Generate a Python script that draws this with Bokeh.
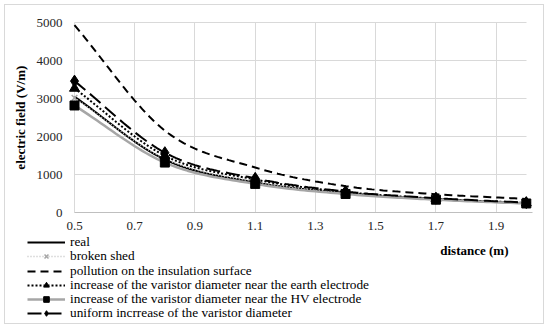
import numpy as np
from math import pi
from bokeh.plotting import figure
from bokeh.models import (Range1d, FixedTicker, Legend, LegendItem, Label,
                          ColumnDataSource, NumeralTickFormatter)
from bokeh.embed import file_html
from bokeh.resources import INLINE

# ---- data ----
distance = [0.5, 0.8, 1.1, 1.4, 1.7, 2.0]
real = [3050, 1400, 800, 520, 360, 250]
broken_shed = [3020, 1420, 810, 525, 362, 252]
pollution = [4930, 2160, 1190, 700, 490, 365]
earth_electrode = [3270, 1500, 875, 545, 372, 258]
hv_electrode = [2820, 1320, 760, 495, 345, 245]
uniform = [3460, 1580, 905, 560, 385, 268]

x_ticks = [0.5, 0.7, 0.9, 1.1, 1.3, 1.5, 1.7, 1.9]
y_ticks = [0, 1000, 2000, 3000, 4000, 5000]

labels = ["real", "broken shed", "pollution on the insulation surface",
          "increase of the varistor diameter near the earth electrode",
          "increase of the varistor diameter near the HV electrode",
          "uniform incrrease of the varistor diameter"]

FONT = "Liberation Serif"


def smooth(xs, ys, n=24):
    """Catmull-Rom spline through the data points (Excel-like smoothing)."""
    xs = np.asarray(xs, float)
    ys = np.asarray(ys, float)
    P = np.column_stack([xs, ys])
    P = np.vstack([2 * P[0] - P[1], P, 2 * P[-1] - P[-2]])
    out = []
    for i in range(1, len(P) - 2):
        p0, p1, p2, p3 = P[i - 1], P[i], P[i + 1], P[i + 2]
        t = np.linspace(0, 1, n, endpoint=(i == len(P) - 3))[:, None]
        c = 0.5 * ((2 * p1) + (-p0 + p2) * t + (2 * p0 - 5 * p1 + 4 * p2 - p3) * t ** 2
                   + (-p0 + 3 * p1 - 3 * p2 + p3) * t ** 3)
        out.append(c)
    c = np.vstack(out)
    return c[:, 0], c[:, 1]


# The frame covers the whole canvas; axes are pinned inside it so that the
# legend and titles below the plot area are not clipped.
p = figure(width=540, height=320, output_backend="svg", toolbar_location=None,
           x_range=Range1d(0.2709, 2.0638), y_range=Range1d(-2961, 5447),
           min_border=0)
p.styles = {"border": "1px solid #d9d9d9", "margin-left": "4px", "margin-top": "4px"}
p.outline_line_color = None
p.background_fill_color = "white"
p.border_fill_color = "white"

p.xgrid.grid_line_color = "#d9d9d9"
p.ygrid.grid_line_color = "#d9d9d9"
p.xgrid.ticker = FixedTicker(ticks=x_ticks)
p.ygrid.ticker = FixedTicker(ticks=y_ticks[1:])
if "cross_bounds" in p.xgrid[0].properties():
    p.xgrid.cross_bounds = (0, 5000)
    p.ygrid.cross_bounds = (0.5, 2.0)

xa = p.xaxis[0]
ya = p.yaxis[0]
xa.fixed_location = 0
ya.fixed_location = 0.5
xa.bounds = (0.5, 2.02)
ya.bounds = (0, 5000)
xa.ticker = FixedTicker(ticks=x_ticks)
xa.formatter = NumeralTickFormatter(format="0.0")
ya.ticker = FixedTicker(ticks=y_ticks)
for ax in (xa, ya):
    ax.major_tick_line_color = None
    ax.minor_tick_line_color = None
    ax.major_tick_out = 0
    ax.major_tick_in = 0
    ax.major_label_text_font = FONT
    ax.major_label_text_font_size = "13px"
    ax.major_label_text_color = "#262626"
xa.axis_line_color = "#bfbfbf"
ya.axis_line_color = None
xa.major_label_standoff = 9
ya.major_label_standoff = 12

p.add_layout(Label(x=0.3207, y=2500, text="electric field (V/m)", angle=pi / 2,
                   text_align="center", text_baseline="middle", text_font=FONT,
                   text_font_size="13px", text_font_style="bold",
                   text_color="black"))
p.add_layout(Label(x=1.941, y=-990, text="distance (m)", text_align="right",
                   text_baseline="middle", text_font=FONT, text_font_size="13px",
                   text_font_style="bold", text_color="black"))

series = [
    dict(y=real, color="black", width=2, dash="solid", marker=None),
    dict(y=broken_shed, color="#bfbfbf", width=1.5, dash="1 2", marker="x",
         mcolor="#a6a6a6", msize=8),
    dict(y=pollution, color="black", width=2, dash="8 5", marker=None),
    dict(y=earth_electrode, color="black", width=2, dash="2 2", marker="triangle",
         mcolor="black", msize=10),
    dict(y=hv_electrode, color="#a6a6a6", width=2.5, dash="solid", marker="square",
         mcolor="black", msize=9),
    dict(y=uniform, color="black", width=2, dash="14 6", marker="diamond",
         mcolor="black", msize=12),
]

items = []
for lab, s in zip(labels, series):
    sx, sy = smooth(distance, s["y"])
    lr = p.line(sx, sy, line_color=s["color"], line_width=s["width"],
                line_dash=s["dash"])
    rends = [lr]
    if s["marker"]:
        src = ColumnDataSource(dict(x=distance, y=s["y"]))
        mr = p.scatter("x", "y", source=src, marker=s["marker"], size=s["msize"],
                       fill_color=s["mcolor"], line_color=s["mcolor"],
                       line_width=1.5 if s["marker"] == "x" else 1)
        rends.append(mr)
    items.append(LegendItem(label=lab, renderers=rends))

# one single-row legend per entry, so the rows can sit 14px apart
ROW_STEP = 14.2
for i, item in enumerate(items):
    lg = Legend(items=[item], location=(22, 74.75 - ROW_STEP * i), padding=0,
                margin=0, spacing=0, label_height=14, glyph_height=14,
                glyph_width=38, label_standoff=5, border_line_alpha=0,
                background_fill_alpha=0, label_text_font=FONT,
                label_text_font_size="13.3px", label_text_color="black")
    p.add_layout(lg, "center")

open("out.html", "w").write(file_html(p, INLINE))
